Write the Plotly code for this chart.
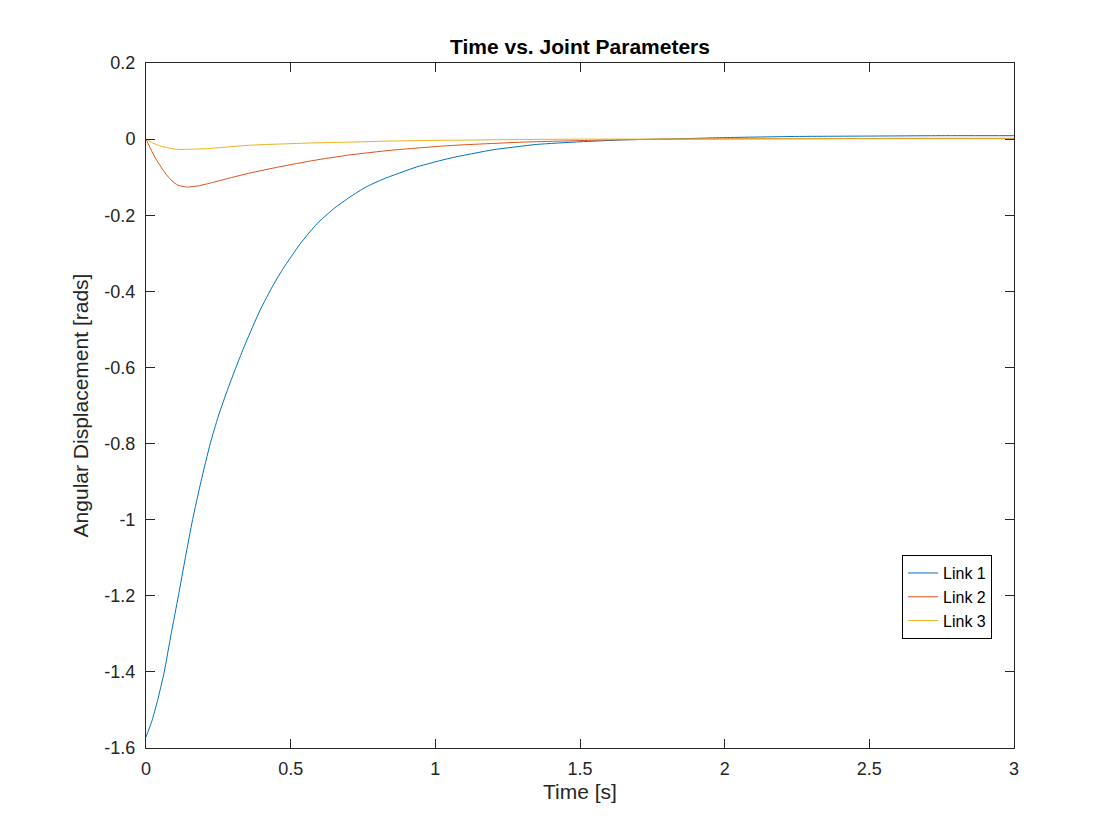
import plotly.graph_objects as go

# MATLAB default line colours
COLORS = ['#0072BD', '#D95319', '#EDB120']
AXIS_COLOR = '#262626'
FONT = 'Liberation Sans, Arial, Helvetica, sans-serif'

# values
t_link1 = [0, 0.02, 0.04, 0.063, 0.087, 0.112, 0.136, 0.161, 0.19, 0.222,
           0.25, 0.282, 0.317, 0.346, 0.394, 0.44, 0.475, 0.532, 0.59,
           0.647, 0.705, 0.76, 0.82, 0.936, 1.051, 1.20, 1.35, 1.50, 1.65,
           1.80, 2.00, 2.25, 2.50, 2.75, 3.00]
link1 = [-1.571, -1.53, -1.475, -1.40, -1.30, -1.20, -1.10, -1.00, -0.90,
         -0.80, -0.728, -0.658, -0.588, -0.533, -0.450, -0.383, -0.339,
         -0.276, -0.223, -0.184, -0.152, -0.126, -0.105, -0.073, -0.050,
         -0.028, -0.014, -0.007, -0.002, 0.0, 0.004, 0.007, 0.008, 0.009,
         0.009]

t_link23 = [0, 0.02, 0.035, 0.05, 0.07, 0.09, 0.11, 0.14, 0.18, 0.23, 0.29,
            0.36, 0.46, 0.58, 0.70, 0.85, 1.05, 1.30, 1.55, 1.80, 2.20,
            2.60, 3.00]
link2 = [0, -0.032, -0.053, -0.071, -0.093, -0.110, -0.121, -0.126, -0.123,
         -0.114, -0.102, -0.089, -0.073, -0.056, -0.042, -0.029, -0.017,
         -0.008, -0.003, 0.0, 0.001, 0.002, 0.002]
link3 = [0, -0.009, -0.014, -0.018, -0.022, -0.025, -0.027, -0.027, -0.026,
         -0.024, -0.020, -0.016, -0.013, -0.010, -0.008, -0.005, -0.003,
         -0.001, 0.0, 0.0, 0.001, 0.001, 0.001]

x_ticks = [0, 0.5, 1, 1.5, 2, 2.5, 3]
x_labels = ['0', '0.5', '1', '1.5', '2', '2.5', '3']
y_ticks = [-1.6, -1.4, -1.2, -1, -0.8, -0.6, -0.4, -0.2, 0, 0.2]
y_labels = ['-1.6', '-1.4', '-1.2', '-1', '-0.8', '-0.6', '-0.4', '-0.2', '0', '0.2']

series = [
    ('Link 1', t_link1, link1),
    ('Link 2', t_link23, link2),
    ('Link 3', t_link23, link3),
]

fig = go.Figure()
for (name, t, y), color in zip(series, COLORS):
    fig.add_trace(go.Scatter(
        x=t, y=y, name=name, mode='lines',
        line=dict(color=color, width=1, shape='spline', smoothing=0.5)
    ))

axis_style = dict(
    showgrid=False, zeroline=False, showline=True, linecolor=AXIS_COLOR,
    linewidth=1, mirror='ticks', ticks='inside', ticklen=9,
    tickcolor=AXIS_COLOR, tickfont=dict(size=18, color=AXIS_COLOR, family=FONT),
)

fig.update_layout(
    width=1120, height=840,
    margin=dict(l=138, r=114, t=55, b=100),
    paper_bgcolor='white', plot_bgcolor='white',
    font=dict(family=FONT, color=AXIS_COLOR),
    title=dict(text='<b>Time vs. Joint Parameters</b>', x=0.5,
               xref='paper', xanchor='center', y=1 - 39 / 840, yanchor='middle',
               font=dict(size=21, color='black', family=FONT)),
    xaxis=dict(range=[0, 3], tickvals=x_ticks, ticktext=x_labels,
               ticklabelstandoff=4,
               title=dict(text='Time [s]', standoff=6,
                          font=dict(size=21, color=AXIS_COLOR, family=FONT)),
               **axis_style),
    yaxis=dict(range=[-1.6, 0.2], tickvals=y_ticks, ticktext=y_labels,
               ticklabelstandoff=6,
               title=dict(text='Angular Displacement [rads]', standoff=10,
                          font=dict(size=21, color=AXIS_COLOR, family=FONT)),
               **axis_style),
    legend=dict(x=0.9747, y=0.159, xanchor='right', yanchor='bottom',
                bgcolor='white', bordercolor='black', borderwidth=1,
                font=dict(size=16, color='black', family=FONT),
                tracegroupgap=0),
    showlegend=True,
)

fig.write_html("out.html")
